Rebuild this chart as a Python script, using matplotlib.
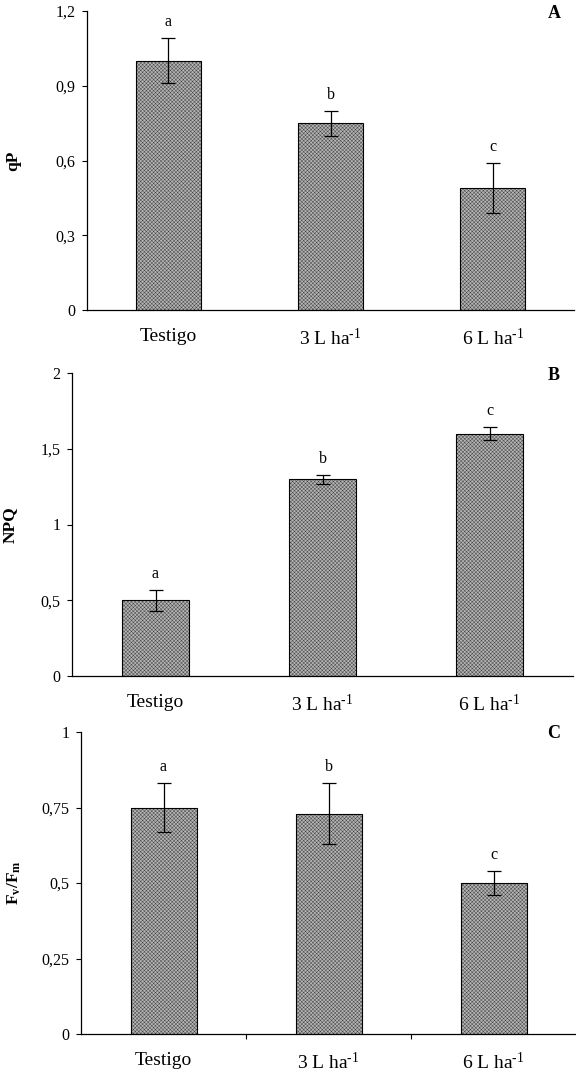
import matplotlib
matplotlib.use("Agg")
import matplotlib.pyplot as plt
from matplotlib.ticker import FixedLocator
import numpy as np

plt.rcParams['font.family'] = ['Liberation Serif', 'DejaVu Serif']
plt.rcParams['mathtext.fontset'] = 'custom'
plt.rcParams['mathtext.rm'] = 'Liberation Serif'
plt.rcParams['mathtext.it'] = 'Liberation Serif:italic'
plt.rcParams['mathtext.bf'] = 'Liberation Serif:bold'
plt.rcParams['hatch.linewidth'] = 0.3

categories = ['Testigo', '3 L ha$^{\\mathregular{\u20101}}$', '6 L ha$^{\\mathregular{\u20101}}$']

qp_values = [1.0, 0.75, 0.49]
qp_errors = [0.09, 0.05, 0.10]
qp_letters = ['a', 'b', 'c']
qp_ticks = [0, 0.3, 0.6, 0.9, 1.2]
qp_ticklabels = ['0', '0,3', '0,6', '0,9', '1,2']

npq_values = [0.50, 1.30, 1.60]
npq_errors = [0.07, 0.03, 0.045]
npq_letters = ['a', 'b', 'c']
npq_ticks = [0, 0.5, 1, 1.5, 2]
npq_ticklabels = ['0', '0,5', '1', '1,5', '2']

fvfm_values = [0.75, 0.73, 0.50]
fvfm_errors = [0.08, 0.10, 0.04]
fvfm_letters = ['a', 'b', 'c']
fvfm_ticks = [0, 0.25, 0.5, 0.75, 1]
fvfm_ticklabels = ['0', '0,25', '0,5', '0,75', '1']

W, H = 576, 1072
fig = plt.figure(figsize=(W / 100, H / 100), dpi=100)

panels = [
    dict(rect=[87, 11, 574, 310], vals=qp_values, errs=qp_errors, letters=qp_letters,
         ticks=qp_ticks, ticklabels=qp_ticklabels, ylabel='qP', tag='A', ylabx=13, minor=False),
    dict(rect=[72, 373, 573, 676], vals=npq_values, errs=npq_errors, letters=npq_letters,
         ticks=npq_ticks, ticklabels=npq_ticklabels, ylabel='NPQ', tag='B', ylabx=10, minor=False),
    dict(rect=[81, 732, 576, 1034], vals=fvfm_values, errs=fvfm_errors, letters=fvfm_letters,
         ticks=fvfm_ticks, ticklabels=fvfm_ticklabels,
         ylabel=r'F$_\mathbf{v}$/F$_\mathbf{m}$', tag='C', ylabx=14, minor=True),
]

x = np.arange(len(categories))
for p in panels:
    l, t, r, b = p['rect']
    ax = fig.add_axes([l / W, 1 - b / H, (r - l) / W, (b - t) / H])
    ax.bar(x, p['vals'], width=0.4, facecolor='#b4b4b4', edgecolor='#3a3a3a',
           linewidth=0, hatch='xxxxxxxxx', zorder=2)
    ax.bar(x, p['vals'], width=0.4, facecolor='none', edgecolor='black',
           linewidth=0.8, zorder=2.5)
    ax.errorbar(x, p['vals'], yerr=p['errs'], fmt='none', ecolor='black',
                elinewidth=0.9, capsize=5, capthick=0.9, zorder=3)
    for xi, v, e, let in zip(x, p['vals'], p['errs'], p['letters']):
        ax.annotate(let, (xi, v + e), xytext=(0, 11.5), textcoords='offset points',
                    ha='center', va='center', fontsize=11.5)
    ax.set_xlim(-0.5, 2.5)
    ax.set_ylim(p['ticks'][0], p['ticks'][-1])
    ax.set_yticks(p['ticks'])
    ax.set_yticklabels(p['ticklabels'])
    ax.set_xticks(x)
    ax.set_xticklabels(categories)
    ax.tick_params(axis='x', length=0, pad=13, labelsize=14)
    ax.tick_params(axis='y', length=3.5, width=0.8, pad=5, labelsize=11.5, direction='out')
    if p['minor']:
        ax.xaxis.set_minor_locator(FixedLocator([0.5, 1.5]))
        ax.tick_params(axis='x', which='minor', length=3.5, width=0.8, direction='out')
    for s in ['top', 'right']:
        ax.spines[s].set_visible(False)
    for s in ['left', 'bottom']:
        ax.spines[s].set_linewidth(0.9)
    fig.text(p['ylabx'] / W, 1 - (t + b) / 2 / H, p['ylabel'], fontsize=12.5,
             fontweight='bold', rotation=90, ha='center', va='center')
    fig.text(554 / W, 1 - (t + 2) / H, p['tag'], fontsize=13, fontweight='bold',
             ha='center', va='center')

fig.savefig('out.png', dpi=100)
